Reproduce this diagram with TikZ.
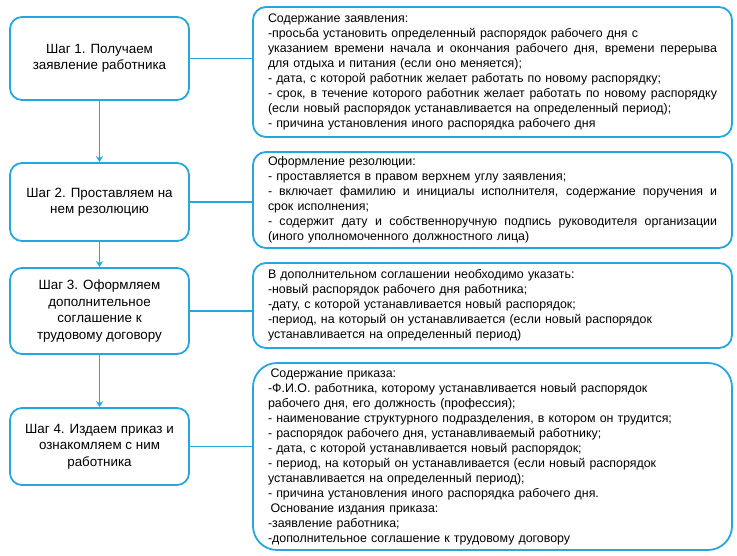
\documentclass[tikz,border=0pt]{standalone}
\usepackage{fontspec}
\setmainfont{Liberation Sans}
\usetikzlibrary{arrows.meta}
\definecolor{lineblue}{RGB}{38,166,222}
\newcommand{\jl}[1]{\leavevmode\hbox to 449pt{\spaceskip=0.28em plus 1fil\relax #1}}
\begin{document}
\begin{tikzpicture}[x=1pt,y=-1pt,
 stepbox/.style={draw=lineblue, line width=1.8pt, rounded corners=12pt, minimum width=179pt, align=center, font=\fontsize{13.4}{16.5}\selectfont, inner sep=0pt},
 infobox/.style={draw=lineblue, line width=1.8pt, rounded corners=13pt, minimum width=479pt, text width=449pt, align=left, font=\fontsize{12.4}{15}\selectfont, inner sep=0pt},
 link/.style={draw=lineblue, line width=1.9pt},
 arr/.style={link, -{Stealth[length=6pt,width=7pt]}}]
\useasboundingbox (0,0) rectangle (737,555);
\fill[white] (0,0) rectangle (737,555);

\node[stepbox, minimum height=83pt] (b1) at (99.5,58.5) {Шаг 1. Получаем\\заявление работника};
\node[stepbox, minimum height=78pt] (b2) at (99.5,202) {Шаг 2. Проставляем на\\нем резолюцию};
\node[stepbox, minimum height=86pt] (b3) at (99.5,311) {Шаг 3. Оформляем\\дополнительное\\соглашение к\\трудовому договору};
\node[stepbox, minimum height=77pt] (b4) at (99.5,446.5) {Шаг 4. Издаем приказ и\\ознакомляем с ним\\работника};

\node[infobox, minimum height=130pt] (r1) at (492.5,72) {Содержание заявления:\\
-просьба установить определенный распорядок рабочего дня с\\
\jl{указанием времени начала и окончания рабочего дня, времени перерыва}\\
для отдыха и питания (если оно меняется);\\
- дата, с которой работник желает работать по новому распорядку;\\
\jl{- срок, в течение которого работник желает работать по новому распорядку}\\
(если новый распорядок устанавливается на определенный период);\\
- причина установления иного распорядка рабочего дня};

\node[infobox, minimum height=96pt] (r2) at (492.5,200) {Оформление резолюции:\\
- проставляется в правом верхнем углу заявления;\\
\jl{- включает фамилию и инициалы исполнителя, содержание поручения и}\\
срок исполнения;\\
\jl{- содержит дату и собственноручную подпись руководителя организации}\\
(иного уполномоченного должностного лица)};

\node[infobox, minimum height=85pt] (r3) at (492.5,305.5) {В дополнительном соглашении необходимо указать:\\
-новый распорядок рабочего дня работника;\\
-дату, с которой устанавливается новый распорядок;\\
-период, на который он устанавливается (если новый распорядок\\
устанавливается на определенный период)};

\node[infobox, minimum height=187pt, rounded corners=24pt] (r4) at (492.5,456.5) {\hspace*{2.5pt}Содержание приказа:\\
-Ф.И.О. работника, которому устанавливается новый распорядок\\
рабочего дня, его должность (профессия);\\
- наименование структурного подразделения, в котором он трудится;\\
- распорядок рабочего дня, устанавливаемый работнику;\\
- дата, с которой устанавливается новый распорядок;\\
- период, на который он устанавливается (если новый распорядок\\
устанавливается на определенный период);\\
- причина установления иного распорядка рабочего дня.\\
\hspace*{2.5pt}Основание издания приказа:\\
-заявление работника;\\
-дополнительное соглашение к трудовому договору};

\draw[arr] (b1) -- (b2);
\draw[arr] (b2) -- (b3);
\draw[arr] (b3) -- (b4);

\draw[link] (b1.east) -- (b1.east -| r1.west);
\draw[link] (b2.east) -- (b2.east -| r2.west);
\draw[link] (b3.east) -- (b3.east -| r3.west);
\draw[link] (b4.east) -- (b4.east -| r4.west);
\end{tikzpicture}
\end{document}
